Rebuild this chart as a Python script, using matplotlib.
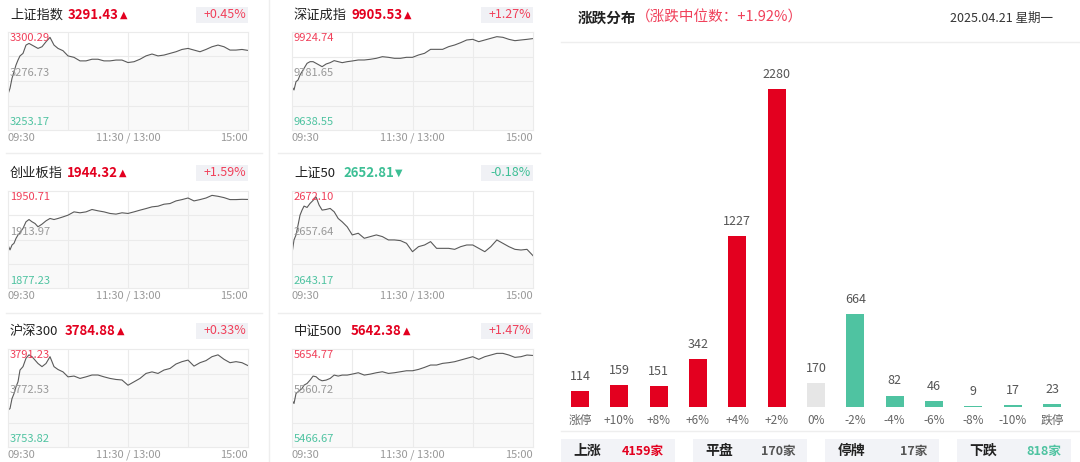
import numpy as np
import matplotlib.pyplot as plt
from matplotlib.patches import Rectangle

plt.rcParams['font.family'] = ['Noto Sans CJK SC', 'DejaVu Sans']

W, H = 1080, 462

# intraday minutes since open (lunch break squeezed out)
minutes = [0, 2, 4, 6, 8, 10, 12, 15, 18, 21, 24, 27, 30, 34, 38, 42, 46, 50, 55, 60,
           66, 72, 78, 84, 90, 96, 102, 108, 114, 120, 126, 132, 138, 144, 150, 156,
           162, 168, 174, 180, 186, 192, 198, 204, 210, 216, 222, 228, 234, 240]

sh_index = [3270.4, 3273.2, 3278.0, 3281.2, 3284.4, 3286.8, 3288.8, 3290.0, 3294.0, 3294.8,
            3294.0, 3293.2, 3292.4, 3293.2, 3295.6, 3297.7, 3294.0, 3292.4, 3291.3, 3288.8,
            3288.1, 3286.4, 3286.4, 3287.2, 3287.2, 3286.4, 3286.4, 3286.8, 3286.8, 3285.6,
            3286.0, 3287.2, 3288.8, 3289.7, 3288.8, 3289.2, 3290.0, 3290.8, 3291.9, 3292.4,
            3291.6, 3290.8, 3291.9, 3293.2, 3294.0, 3293.2, 3291.6, 3291.6, 3291.9, 3291.43]
sz_index = [9765.2, 9755.4, 9779.7, 9784.6, 9799.2, 9808.9, 9818.7, 9833.3, 9838.1, 9838.1,
            9833.3, 9828.4, 9823.5, 9831.3, 9835.2, 9841.1, 9838.1, 9835.2, 9838.1, 9840.1,
            9843.0, 9843.0, 9845.0, 9847.9, 9852.7, 9850.8, 9847.9, 9847.9, 9850.8, 9850.8,
            9857.6, 9862.5, 9874.1, 9874.1, 9874.1, 9881.9, 9886.8, 9893.6, 9901.4, 9903.3,
            9896.5, 9901.4, 9906.3, 9911.1, 9909.2, 9903.3, 9899.4, 9901.4, 9903.3, 9905.53]
cyb_index = [1909.8, 1906.1, 1909.8, 1911.1, 1914.8, 1917.4, 1919.1, 1922.4, 1927.4, 1929.1,
             1927.4, 1926.1, 1923.6, 1925.6, 1928.1, 1929.9, 1929.1, 1929.9, 1931.1, 1932.4,
             1934.9, 1934.2, 1934.9, 1936.7, 1935.7, 1934.9, 1933.7, 1933.2, 1934.2, 1933.7,
             1934.9, 1936.2, 1937.4, 1938.7, 1939.2, 1940.7, 1941.2, 1943.2, 1944.2, 1945.4,
             1943.2, 1944.2, 1945.4, 1947.4, 1946.7, 1945.7, 1944.2, 1944.2, 1944.4, 1944.32]
sz50_index = [2653.5, 2657.5, 2659.0, 2661.9, 2664.9, 2666.4, 2667.6, 2667.2, 2668.4, 2669.3,
              2670.3, 2667.9, 2666.4, 2666.6, 2666.9, 2665.9, 2663.9, 2662.9, 2661.4, 2659.0,
              2659.5, 2658.0, 2658.5, 2659.0, 2658.5, 2657.5, 2657.5, 2657.3, 2656.5, 2654.0,
              2655.5, 2656.0, 2657.0, 2655.0, 2655.0, 2655.0, 2654.7, 2655.5, 2656.0, 2656.0,
              2655.0, 2654.0, 2655.5, 2657.5, 2656.5, 2655.5, 2654.7, 2654.5, 2654.7, 2652.81]
hs300_index = [3767.9, 3768.5, 3772.3, 3774.2, 3776.8, 3778.7, 3783.2, 3784.5, 3787.7, 3789.0,
               3788.3, 3787.0, 3785.7, 3784.5, 3785.7, 3788.3, 3784.5, 3783.4, 3782.5, 3780.6,
               3780.9, 3780.0, 3780.6, 3781.3, 3781.3, 3780.6, 3780.0, 3779.6, 3779.4, 3777.4,
               3778.7, 3780.0, 3781.9, 3782.5, 3781.9, 3783.2, 3783.8, 3785.5, 3786.4, 3787.0,
               3784.7, 3786.0, 3786.8, 3788.3, 3789.0, 3787.3, 3786.0, 3786.4, 3786.0, 3784.88]
zz500_index = [5556.5, 5550.1, 5569.4, 5572.6, 5575.8, 5579.0, 5585.4, 5588.6, 5595.1, 5602.8,
               5601.5, 5596.3, 5593.8, 5595.1, 5598.3, 5604.7, 5602.8, 5604.7, 5604.7, 5606.6,
               5609.2, 5604.7, 5606.6, 5609.2, 5611.1, 5607.9, 5609.2, 5611.1, 5613.0, 5613.0,
               5615.6, 5619.5, 5624.0, 5624.0, 5627.2, 5628.5, 5630.4, 5633.6, 5636.8, 5640.0,
               5634.9, 5640.0, 5643.2, 5646.4, 5646.4, 5643.2, 5638.7, 5640.0, 5643.2, 5642.38]

names = ['上证指数', '深证成指', '创业板指', '上证50', '沪深300', '中证500']
series = [sh_index, sz_index, cyb_index, sz50_index, hs300_index, zz500_index]
last = ['3291.43', '9905.53', '1944.32', '2652.81', '3784.88', '5642.38']
pct = ['+0.45%', '+1.27%', '+1.59%', '-0.18%', '+0.33%', '+1.47%']
axis_high = [3300.29, 9924.74, 1950.71, 2672.10, 3791.23, 5654.77]
axis_mid = [3276.73, 9781.65, 1913.97, 2657.64, 3772.53, 5560.72]
axis_low = [3253.17, 9638.55, 1877.23, 2643.17, 3753.82, 5466.67]
time_labels = ['09:30', '11:30 / 13:00', '15:00']

bar_cats = ['涨停', '+10%', '+8%', '+6%', '+4%', '+2%', '0%', '-2%', '-4%', '-6%', '-8%', '-10%', '跌停']
bar_vals = [114, 159, 151, 342, 1227, 2280, 170, 664, 82, 46, 9, 17, 23]

summary_labels = ['上涨', '平盘', '停牌', '下跌']
summary_counts = ['4159家', '170家', '17家', '818家']

RED = '#e3001f'
RED_L = '#f0405a'
GREEN = '#4fc3a1'
GRAY = '#999999'


def rect(x0, y0, x1, y1):
    return [x0 / W, 1 - y1 / H, (x1 - x0) / W, (y1 - y0) / H]


def ftext(x, y, s, **kw):
    kw.setdefault('va', 'center')
    return fig.text(x / W, 1 - y / H, s, **kw)


def fbox(x0, y0, x1, y1, color):
    fig.add_artist(Rectangle((x0 / W, 1 - y1 / H), (x1 - x0) / W, (y1 - y0) / H,
                             transform=fig.transFigure, color=color, lw=0, zorder=0))


def fline(x0, y0, x1, y1, color='#eeeeee'):
    fig.add_artist(plt.Line2D([x0 / W, x1 / W], [1 - y0 / H, 1 - y1 / H],
                              transform=fig.transFigure, color=color, lw=1))


fig = plt.figure(figsize=(W / 100, H / 100), dpi=100)
renderer = fig.canvas.get_renderer()

col_x = [(8, 248), (292, 533)]
row_top = [32, 191, 349]
row_bot = [130, 288, 447]
title_y = [15, 173, 331]
value_x = [[68, 352], [67, 343], [65, 351]]

for k in range(6):
    r, c = k // 2, k % 2
    x0, x1 = col_x[c]
    top, bot = row_top[r], row_bot[r]
    lo, hi = axis_low[k], axis_high[k]
    up = pct[k].startswith('+')
    col = RED if up else '#3dbf95'

    ax = fig.add_axes(rect(x0, top, x1, bot))
    ax.plot(minutes, series[k], color='#5a5a5a', lw=0.8)
    ax.fill_between(minutes, series[k], lo, color='#f9f9f9', lw=0)
    ax.set_xlim(0, 240)
    ax.set_ylim(lo, hi)
    ax.set_xticks([60, 120, 180])
    ax.set_yticks(np.linspace(lo, hi, 5)[1:-1])
    ax.grid(color='#ebebeb', lw=0.8)
    ax.tick_params(length=0, labelleft=False, labelbottom=False)
    for s in ax.spines.values():
        s.set_color('#ebebeb')
        s.set_linewidth(0.8)

    # header
    ftext(x0 + 2, title_y[r], names[k], fontsize=9.5, color='#222222')
    t = ftext(value_x[r][c], title_y[r], last[k], fontsize=9.5, fontweight='bold', color=col)
    bb = t.get_window_extent(renderer)
    fig.text(bb.x1 / W + 1 / W, 1 - title_y[r] / H, '▲' if up else '▼', va='center',
             fontsize=7, color=col, family='DejaVu Sans')
    fbox(x1 - 52, title_y[r] - 8, x1, title_y[r] + 8, '#f0f1f5')
    ftext(x1 - 2, title_y[r], pct[k], fontsize=9, ha='right',
          color=RED_L if up else '#3dbf95')

    # axis labels inside the plot
    ftext(x0 + 2, top + 6, '%.2f' % hi, fontsize=8, color=RED_L)
    ftext(x0 + 2, top + 41, '%.2f' % axis_mid[k], fontsize=8, color=GRAY)
    ftext(x0 + 2, top + 90, '%.2f' % lo, fontsize=8, color=GREEN)

    ftext(x0, bot + 8, time_labels[0], fontsize=8, color=GRAY)
    ftext((x0 + x1) / 2, bot + 8, time_labels[1], fontsize=8, color=GRAY, ha='center')
    ftext(x1, bot + 8, time_labels[2], fontsize=8, color=GRAY, ha='right')

# separators
fline(269, 0, 269, 462)
for y in [153, 313]:
    fline(6, y, 262, y)
    fline(278, y, 540, y)

# right panel header
ftext(578, 18, '涨跌分布', fontsize=10.5, fontweight='bold', color='#222222')
ftext(636, 18, '（涨跌中位数：+1.92%）', fontsize=10.5, color=RED_L)
ftext(1053, 18, '2025.04.21 星期一', fontsize=9, color='#333333', ha='right')
fline(561, 42, 1080, 42)

# distribution bars
bar_colors = [RED] * 6 + ['#e6e6e6'] + [GREEN] * 6
bax = fig.add_axes(rect(560.3, 60, 1071.7, 407))
xs = np.arange(len(bar_vals))
bax.bar(xs, bar_vals, width=0.46, color=bar_colors)
bax.set_xlim(-0.5, len(bar_vals) - 0.5)
bax.set_ylim(0, max(bar_vals) * (407 - 60) / (407 - 89))
for i, v in enumerate(bar_vals):
    bax.annotate(str(v), (i, v), xytext=(0, 10.5), textcoords='offset points',
                 ha='center', va='center', fontsize=9, color='#555555')
bax.set_xticks(xs)
bax.set_xticklabels(bar_cats, fontsize=8.5, color='#666666')
bax.tick_params(length=0, pad=5, labelleft=False)
for s in bax.spines.values():
    s.set_visible(False)
fline(561, 431, 1080, 431)

# summary boxes
box_x = [561, 693, 825, 957]
label_dx = [12, 12, 13, 12]
count_dx = [61, 68, 75, 69]
count_colors = [RED, '#555555', '#555555', GREEN]
for i in range(4):
    fbox(box_x[i], 439, box_x[i] + 114, 462, '#f2f3f7')
    ftext(box_x[i] + label_dx[i], 451, summary_labels[i], fontsize=10,
          fontweight='bold', color='#222222')
    ftext(box_x[i] + count_dx[i], 451, summary_counts[i], fontsize=9,
          fontweight='bold', color=count_colors[i])

fig.savefig('out.png', dpi=100)
